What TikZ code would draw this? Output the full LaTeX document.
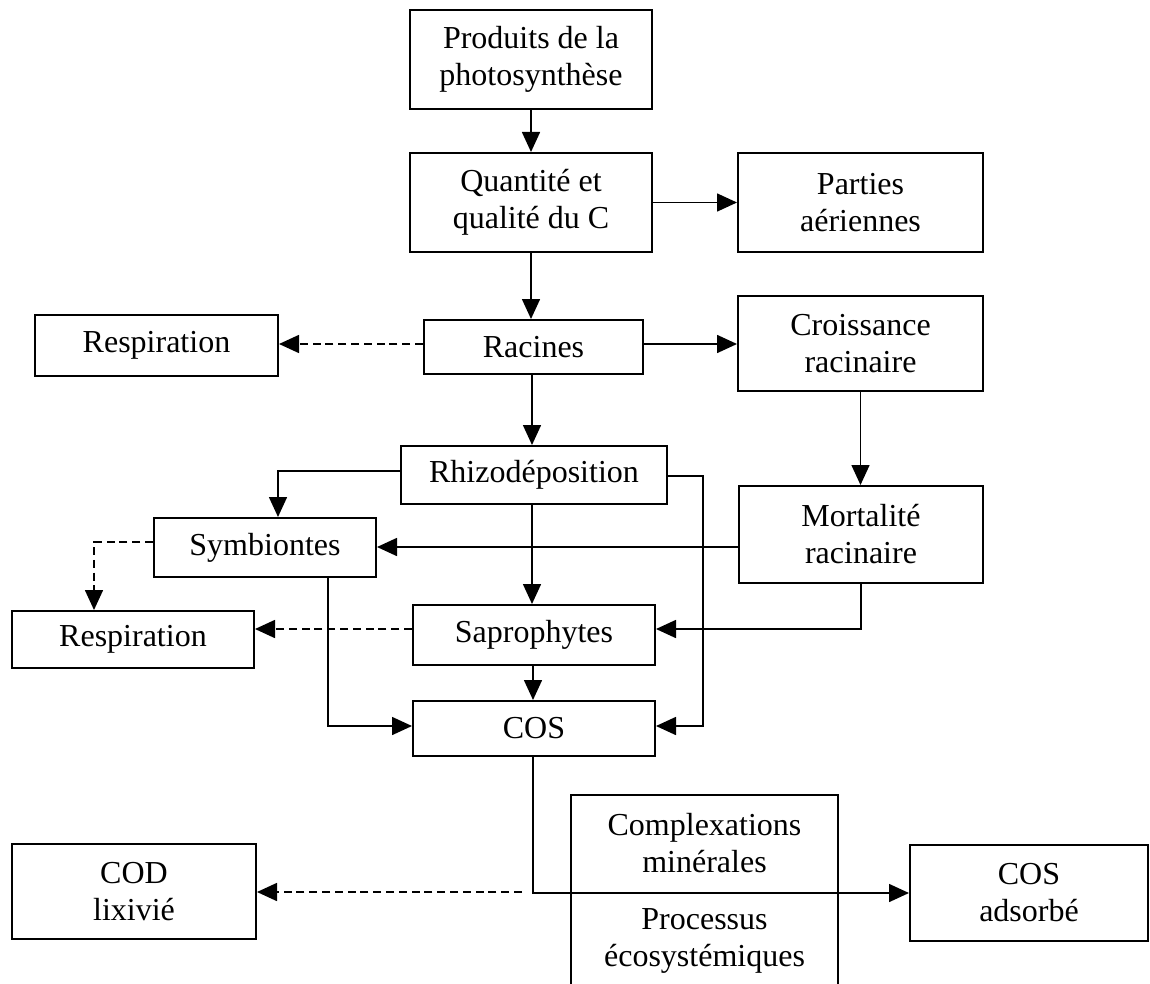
\documentclass[tikz,border=0pt]{standalone}
\usepackage{fontspec}
\setmainfont{Liberation Serif}
\usetikzlibrary{arrows.meta,calc}
\begin{document}
\begin{tikzpicture}[x=0.5pt,y=-0.5pt,
  box/.style={draw,line width=1pt,inner sep=0pt,align=center,
    font=\fontsize{16}{18.5}\selectfont},
  txt/.style={inner sep=0pt,align=center,font=\fontsize{16}{18.5}\selectfont},
  arr/.style={line width=0.8pt,-{Triangle[length=10pt,width=9pt]}},
  dasharr/.style={line width=0.8pt,dash pattern=on 4pt off 2.4pt,-{Triangle[length=10pt,width=9pt]}},
  plain/.style={line width=0.8pt}]
\useasboundingbox (0,0) rectangle (1150,984);

\node[box,minimum width=121pt,minimum height=49.5pt] (prod) at (531,59.5) {Produits de la\\photosynthèse};
\node[box,minimum width=121pt,minimum height=49.5pt] (qual) at (531,202.5) {Quantité et\\qualité du C};
\node[box,minimum width=122.5pt,minimum height=49.5pt] (part) at (860.5,202.5) {Parties\\aériennes};
\node[box,minimum width=109.5pt,minimum height=27pt] (rac) at (533.5,347) {Racines};
\node[box,minimum width=121.5pt,minimum height=30.5pt] (resp1) at (156.5,345.5) {Respiration};
\node[box,minimum width=122.5pt,minimum height=47.5pt] (crois) at (860.5,343.5) {Croissance\\racinaire};
\node[box,minimum width=133pt,minimum height=29pt] (rhizo) at (534,475) {Rhizodéposition};
\node[box,minimum width=122pt,minimum height=48.5pt] (mort) at (861,534.5) {Mortalité\\racinaire};
\node[box,minimum width=111pt,minimum height=29.5pt] (symb) at (265,547.5) {Symbiontes};
\node[box,minimum width=121pt,minimum height=28.5pt] (resp2) at (133,639.5) {Respiration};
\node[box,minimum width=121pt,minimum height=30pt] (sapro) at (534,635) {Saprophytes};
\node[box,minimum width=121pt,minimum height=27.5pt] (cos) at (534,728.5) {COS};
\node[box,minimum width=122pt,minimum height=47.5pt] (cod) at (134,891.5) {COD\\lixivié};
\node[box,minimum width=119pt,minimum height=48pt] (cosad) at (1029,893) {COS\\adsorbé};
\node[inner sep=0pt,minimum width=133.5pt,minimum height=94.5pt] (cx) at (704.5,889.5) {};
\draw[line width=1pt] (cx.south west) |- (cx.north east) -- (cx.south east);
\node[txt] (c1) at (704.5,843) {Complexations\\minérales};
\node[txt] (c2) at (704.5,941) {Processus\\écosystémiques};

\draw[arr] (prod.south) -- (qual.north);
\draw[arr] (qual.east) -- (part.west);
\draw[arr] (qual.south) -- (qual.south |- rac.north);
\draw[dasharr] ([yshift=1.5pt]rac.west) -- ([yshift=1.5pt]rac.west -| resp1.east);
\draw[arr] ([yshift=1.5pt]rac.east) -- ([yshift=1.5pt]rac.east -| crois.west);
\draw[arr] ([xshift=-0.75pt]rac.south) -- ([xshift=-0.75pt]rac.south |- rhizo.north);
\draw[arr] (crois.south) -- (crois.south |- mort.north);
\draw[arr] ([yshift=2pt]rhizo.west) -| ([xshift=6.5pt]symb.north);
\draw[arr] ([xshift=-1pt]rhizo.south) -- ([xshift=-1pt]rhizo.south |- sapro.north);
\draw[arr] ([yshift=-0.5pt]rhizo.east) -- ++(35,0) |- ([yshift=1.25pt]cos.east);
\draw[arr] ([yshift=-6.25pt]mort.west) -- ([yshift=-6.25pt]mort.west -| symb.east);
\draw[arr] (mort.south) |- ([yshift=3pt]sapro.east);
\draw[arr] ([xshift=31.5pt]symb.south) |- ([yshift=1.25pt]cos.west);
\draw[dasharr] ([yshift=2.75pt]symb.west) -| ([xshift=-19.5pt]resp2.north);
\draw[dasharr] ([yshift=3pt]sapro.west) -- ([yshift=3pt]sapro.west -| resp2.east);
\draw[arr] ([xshift=-0.5pt]sapro.south) -- ([xshift=-0.5pt]cos.north);
\draw[arr] ([xshift=-0.5pt]cos.south) |- (cosad.west);
\coordinate (dstart) at (522,892);
\draw[dasharr] (dstart) -- (dstart -| cod.east);
\end{tikzpicture}
\end{document}
